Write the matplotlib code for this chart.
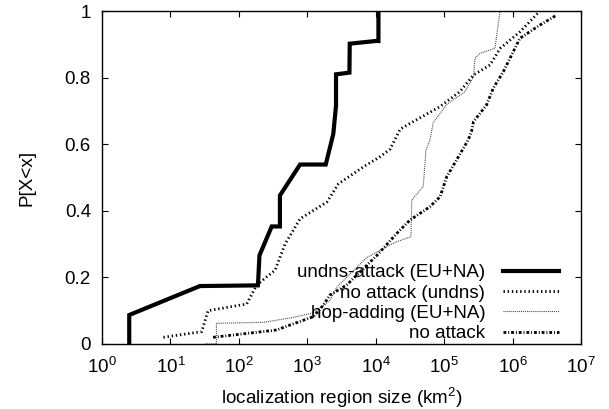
import numpy as np
import matplotlib
matplotlib.use('Agg')
import matplotlib.pyplot as plt

plt.rcParams['font.family'] = ['Liberation Sans', 'DejaVu Sans']
plt.rcParams['mathtext.fontset'] = 'custom'
plt.rcParams['mathtext.rm'] = 'Liberation Sans'
plt.rcParams['mathtext.it'] = 'Liberation Sans:italic'
plt.rcParams['lines.scale_dashes'] = False

# CDF vertices (x in km^2, P[X<x])
undns_x = [2.5, 2.5, 27, 190, 200, 302, 398, 398, 785, 1860, 2400, 2630, 2630, 4130, 4170, 10000, 10960, 10960]
undns_p = [0.0, 0.087, 0.174, 0.176, 0.266, 0.353, 0.353, 0.446, 0.539, 0.539, 0.631, 0.716, 0.81, 0.815, 0.902, 0.91, 0.91, 1.0]

noatk_undns_x = [7.9, 28.6, 35.5, 130, 182, 339, 473, 785, 1930, 2850, 6600, 11500, 16200, 22900,
                 87000, 170000, 269000, 468000, 660000, 1290000, 2510000]
noatk_undns_p = [0.02, 0.037, 0.10, 0.12, 0.177, 0.222, 0.30, 0.376, 0.426, 0.481, 0.532, 0.562, 0.585, 0.646,
                 0.713, 0.758, 0.808, 0.838, 0.888, 0.938, 1.0]

hop_x = [32, 47, 47, 229, 562, 1165, 2140, 2690, 7210, 14450, 20300, 32700, 33600, 49500, 54300,
         62100, 69200, 110000, 202000, 269000, 282000, 334000, 553000, 589000, 655000]
hop_p = [0.0, 0.0, 0.062, 0.065, 0.078, 0.092, 0.13, 0.17, 0.258, 0.292, 0.307, 0.322, 0.432, 0.473, 0.583,
         0.613, 0.665, 0.72, 0.758, 0.803, 0.858, 0.873, 0.888, 0.93, 1.0]

noatk_x = [42, 357, 562, 1230, 1720, 2140, 3760, 10300, 20300, 31600, 61700, 87100, 109000, 225000,
           251000, 269000, 417000, 522000, 733000, 1280000, 2510000, 4420000]
noatk_p = [0.02, 0.042, 0.057, 0.082, 0.117, 0.147, 0.177, 0.265, 0.332, 0.372, 0.412, 0.442, 0.502, 0.613,
           0.638, 0.668, 0.718, 0.768, 0.818, 0.918, 0.958, 0.988]

fig = plt.figure(figsize=(6.09, 4.09), dpi=100)
ax = fig.add_axes([0.1675, 0.159, 0.7865, 0.814])

ax.plot(undns_x, undns_p, color='black', lw=3.0, solid_joinstyle='miter',
        label='undns-attack (EU+NA)')
ax.plot(noatk_undns_x, noatk_undns_p, color='black', lw=2.0, dashes=(1.0, 2.0),
        label='no attack (undns)')
ax.plot(hop_x, hop_p, color='#444444', lw=0.8, dashes=(0.7, 0.7),
        label='hop-adding (EU+NA)')
ax.plot(noatk_x, noatk_p, color='black', lw=2.0, dashes=(2.0, 1.4, 0.7, 1.4),
        label='no attack')

ax.set_xscale('log')
ax.set_xlim(1, 1e7)
ax.set_ylim(0, 1)
ax.set_xticks([10.0 ** k for k in range(8)])
ax.xaxis.set_minor_locator(matplotlib.ticker.NullLocator())
ax.set_yticks([0, 0.2, 0.4, 0.6, 0.8, 1])
ax.set_yticklabels(['0', '0.2', '0.4', '0.6', '0.8', '1'])
ax.tick_params(direction='in', length=4.5, width=0.8, top=True, right=True,
               labelsize=13.5, pad=9)
ax.tick_params(axis='y', pad=8)
for s in ax.spines.values():
    s.set_linewidth(1.0)

ax.set_xlabel('localization region size (km$^2$)', fontsize=13.6, labelpad=7)
ax.set_ylabel('P[X<x]', fontsize=13.6, labelpad=21)

leg = ax.legend(loc='lower right', bbox_to_anchor=(0.955, 0.005), frameon=False,
                markerfirst=False, fontsize=13.5, handlelength=3.0, handletextpad=0.95,
                labelspacing=0.17, borderpad=0, borderaxespad=0)

fig.savefig('out.png', dpi=100)
